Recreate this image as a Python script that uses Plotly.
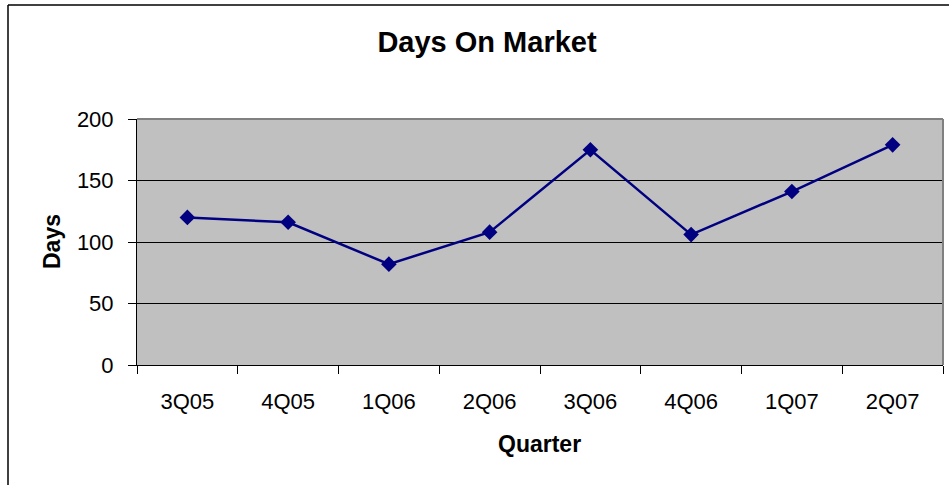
import plotly.graph_objects as go

quarters = ["3Q05", "4Q05", "1Q06", "2Q06", "3Q06", "4Q06", "1Q07", "2Q07"]
days_on_market = [120, 116, 82, 108, 175, 106, 141, 179]
y_ticks = [0, 50, 100, 150, 200]

W, H = 952, 485
L, R, T, B = 137, 943, 119, 365
FONT = "Arial, Liberation Sans, sans-serif"


def px_x(p):
    return (p - L) / (R - L)


def px_y(p):
    return (B - p) / (B - T)


fig = go.Figure(
    go.Scatter(
        x=quarters,
        y=days_on_market,
        mode="lines+markers",
        line=dict(color="#000080", width=2.5),
        marker=dict(symbol="diamond", size=12, color="#000080"),
        cliponaxis=False,
    )
)

fig.update_layout(
    width=W,
    height=H,
    margin=dict(l=L, r=W - R, t=T, b=H - B, pad=0),
    paper_bgcolor="white",
    plot_bgcolor="#C0C0C0",
    showlegend=False,
    font=dict(family=FONT, color="black"),
    title=dict(
        text="<b>Days On Market</b>",
        font=dict(size=29, family=FONT, color="black"),
        x=487 / W,
        xanchor="center",
        xref="container",
        y=1 - 42 / H,
        yref="container",
        yanchor="middle",
    ),
)

fig.update_xaxes(
    type="category",
    categoryorder="array",
    categoryarray=quarters,
    tickson="boundaries",
    ticks="outside",
    ticklen=8,
    tickcolor="black",
    tickwidth=1,
    showline=True,
    linecolor="black",
    linewidth=1,
    showgrid=False,
    tickfont=dict(size=22, family=FONT, color="black"),
    ticklabelstandoff=17,
    range=[-0.5, len(quarters) - 0.5],
)

fig.update_yaxes(
    range=[0, 200],
    tickvals=y_ticks,
    ticks="outside",
    ticklen=8,
    tickcolor="black",
    tickwidth=1,
    showline=True,
    linecolor="black",
    linewidth=1,
    showgrid=True,
    gridcolor="black",
    gridwidth=1,
    zeroline=False,
    tickfont=dict(size=22, family=FONT, color="black"),
    ticklabelstandoff=10,
)

# Gray frame on the top and right of the plot area
fig.add_shape(type="line", xref="paper", yref="paper", x0=0, x1=1, y0=1, y1=1,
              line=dict(color="#808080", width=2))
fig.add_shape(type="line", xref="paper", yref="paper", x0=1, x1=1, y0=0, y1=1,
              line=dict(color="#808080", width=2))

# Outer chart border
fig.add_shape(type="line", xref="paper", yref="paper",
              x0=px_x(8), x1=px_x(8), y0=px_y(5), y1=px_y(H + 10),
              line=dict(color="black", width=1.5))
fig.add_shape(type="line", xref="paper", yref="paper",
              x0=px_x(8), x1=px_x(949), y0=px_y(5), y1=px_y(5),
              line=dict(color="black", width=1.5))

# Axis titles
fig.add_annotation(text="<b>Days</b>", xref="paper", yref="paper",
                   x=px_x(52), y=px_y(242), showarrow=False, textangle=-90,
                   xanchor="center", yanchor="middle",
                   font=dict(size=23, family=FONT, color="black"))
fig.add_annotation(text="<b>Quarter</b>", xref="paper", yref="paper",
                   x=px_x(539), y=px_y(444), showarrow=False,
                   xanchor="center", yanchor="middle",
                   font=dict(size=23, family=FONT, color="black"))

fig.write_html("out.html")
